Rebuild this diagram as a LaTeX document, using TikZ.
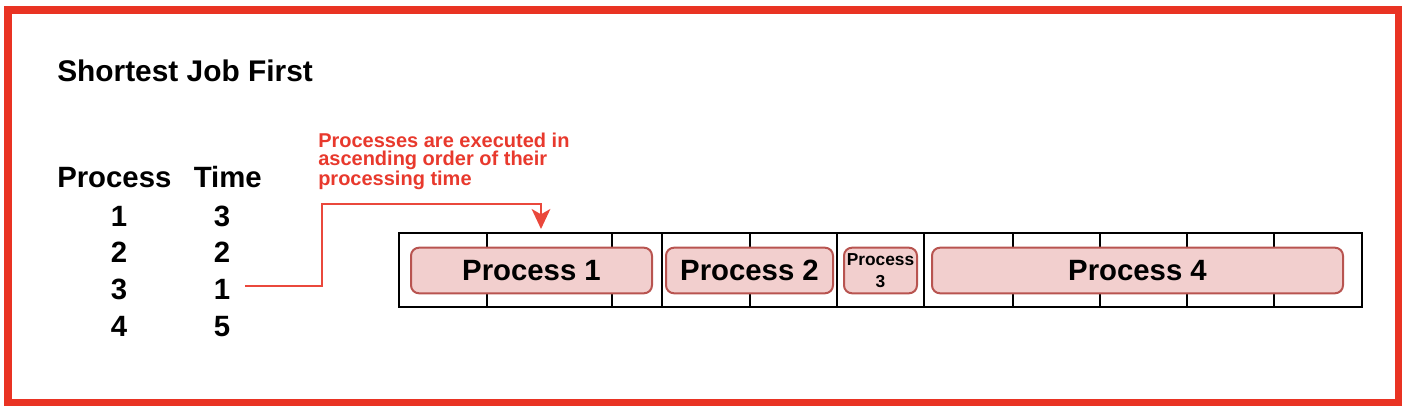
\documentclass[tikz,border=0pt]{standalone}
\usepackage{fontspec}
\setmainfont{Liberation Sans}
\usetikzlibrary{arrows.meta}
\definecolor{framered}{RGB}{233,51,35}
\definecolor{annred}{RGB}{232,57,45}
\definecolor{arrred}{RGB}{234,72,60}
\definecolor{boxfill}{RGB}{242,207,206}
\definecolor{boxline}{RGB}{184,84,80}
\begin{document}
\begin{tikzpicture}[x=0.75pt,y=-0.75pt,
  big/.style={font=\fontsize{22}{26}\selectfont\bfseries, inner sep=0pt},
  ann/.style={font=\fontsize{15}{13.5}\selectfont\bfseries, text=annred, inner sep=0pt, align=left},
  procbox/.style={draw=boxline, fill=boxfill, line width=1.5pt, rounded corners=6pt,
    minimum height=34.2pt, inner sep=0pt, font=\fontsize{22}{26}\selectfont\bfseries},
  gridline/.style={line width=1.5pt, black},
  arr/.style={draw=arrred, line width=1.5pt, -{Stealth[length=15pt, width=14pt, inset=4pt]}}
]
\useasboundingbox (0,0) rectangle (1410,416);
% outer frame
\draw[framered, line width=5.6pt] (8,10) rectangle (1398.5,402.5);

% title
\node[big, anchor=base west, font=\fontsize{22.4}{26}\selectfont\bfseries] (title) at (57,82) {Shortest Job First};

% table
\node[big, anchor=base west] (hp) at (57,187.5) {Process};
\node[big, anchor=base east] (ht) at (262,187.5) {Time};
\node[big, anchor=base] (p1) at (119,226.5) {1};
\node[big, anchor=base] (t1) at (222,226.5) {3};
\node[big, anchor=base] (p2) at (119,262.5) {2};
\node[big, anchor=base] (t2) at (222,262.5) {2};
\node[big, anchor=base] (p3) at (119,299.5) {3};
\node[big, anchor=base] (t3) at (222,299.5) {1};
\node[big, anchor=base] (p4) at (119,336.5) {4};
\node[big, anchor=base] (t4) at (222,336.5) {5};

% annotation
\node[ann, anchor=north west] (ann) at (318,133) {Processes are executed in\\ascending order of their\\processing time};

% grid
\draw[gridline] (399,233) rectangle (1362,307);
\foreach \x in {487,612,662,750,837,924,1013,1100,1187,1274}
  \draw[gridline] (\x,233) -- (\x,307);

% process boxes
\node[procbox, minimum width=180.75pt] (b1) at (531.5,270.5) {Process 1};
\node[procbox, minimum width=125.25pt] (b2) at (749.5,270.5) {Process 2};
\node[procbox, minimum width=54.75pt, align=center, font=\fontsize{13}{16.5}\selectfont\bfseries] (b3) at (880.5,270.5) {Process\\3};
\node[procbox, minimum width=308.25pt] (b4) at (1137.5,270.5) {Process 4};

% connector
\coordinate (tgt) at (541,229);
\draw[arr] ([xshift=11.25pt,yshift=2.25pt]t3.east) -| (322,204) -| (tgt);
\end{tikzpicture}
\end{document}
